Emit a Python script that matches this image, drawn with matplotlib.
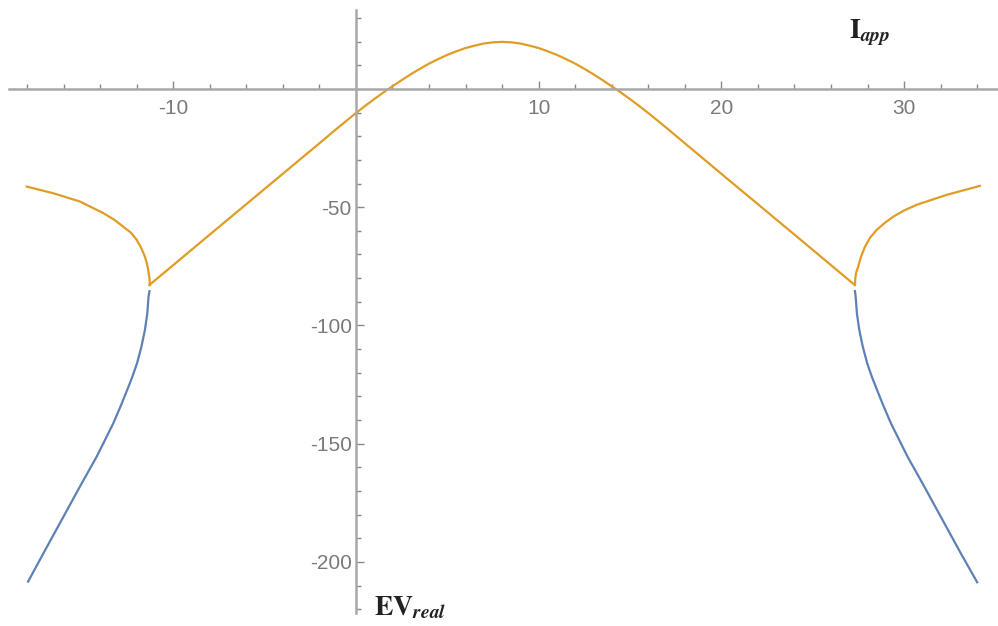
import matplotlib
matplotlib.use("Agg")
import matplotlib.pyplot as plt
from matplotlib.ticker import FixedLocator

plt.rcParams['axes.unicode_minus'] = False
plt.rcParams['mathtext.fontset'] = 'stix'
plt.rcParams['font.family'] = ['Liberation Sans', 'DejaVu Sans']

# real part of complex pair (shared), cusp to cusp
main_x = [-11.3, -8, -5, -2, -1, 0, 0.5, 1, 1.5, 2, 2.5, 3, 3.5, 4, 4.5, 5, 5.5, 6, 6.5,
          7, 7.5, 8, 8.5, 9, 9.5, 10, 10.5, 11, 11.5, 12, 12.5, 13, 13.5, 14, 14.5, 15,
          15.5, 16, 17, 20, 24, 27.3]
main_y = [-82.9, -61.6, -42.3, -23.0, -16.5, -10.2, -7.2, -4.3, -1.5, 1.1, 3.7, 6.2, 8.5,
          10.7, 12.6, 14.4, 15.9, 17.3, 18.3, 19.2, 19.7, 19.9, 19.7, 19.2, 18.3, 17.3,
          15.9, 14.4, 12.6, 10.7, 8.5, 6.2, 3.7, 1.1, -1.5, -4.3, -7.2, -10.2, -16.5,
          -35.9, -61.6, -82.9]

# real eigenvalues, left side
left_up_x = [-11.28, -11.3, -11.37, -11.44, -11.55, -11.75, -12.0, -12.3, -12.74, -13.25,
             -13.83, -15.11, -16.57, -18.02]
left_up_y = [-82.9, -80.0, -76.5, -73.8, -70.9, -67.3, -63.8, -60.9, -58.2, -55.2,
             -52.5, -47.6, -44.1, -41.3]
left_lo_x = [-11.3, -11.35, -11.42, -11.55, -11.74, -11.98, -12.25, -12.52, -12.88, -13.28,
             -14.19, -15.11, -16.2, -17.1, -17.94]
left_lo_y = [-85.5, -87.8, -95.0, -102.0, -109.0, -116.0, -122.0, -127.3, -134.2, -141.4,
             -155.5, -168.2, -183.6, -196.3, -208.3]

# real eigenvalues, right side
right_up_x = [27.31, 27.33, 27.38, 27.49, 27.65, 27.86, 28.15, 28.5, 28.95, 29.41, 30.0,
              30.69, 32.33, 34.15]
right_up_y = [-82.9, -80.0, -77.6, -75.1, -70.8, -66.7, -62.8, -59.6, -56.6, -54.0, -51.4,
              -49.0, -44.8, -41.0]
right_lo_x = [27.31, 27.35, 27.42, 27.55, 27.74, 27.98, 28.25, 28.52, 28.88, 29.28,
              30.19, 31.11, 32.2, 33.1, 34.0]
right_lo_y = [-85.5, -87.8, -95.0, -102.0, -109.0, -116.0, -122.0, -127.3, -134.2, -141.4,
              -155.5, -168.2, -183.6, -196.3, -208.6]

blue = '#5e81b5'
orange = '#e09c24'

fig = plt.figure(figsize=(9.98, 6.26), dpi=100)
ax = fig.add_axes([0, 0, 1, 1])

ax.plot(left_lo_x, left_lo_y, color=blue, lw=1.6)
ax.plot(right_lo_x, right_lo_y, color=blue, lw=1.6)
ax.plot(main_x, main_y, color=orange, lw=1.6)
ax.plot(left_up_x, left_up_y, color=orange, lw=1.6)
ax.plot(right_up_x, right_up_y, color=orange, lw=1.6)

ax.set_xlim(-19.48, 35.14)
ax.set_ylim(-227.1, 37.6)

for s in ['top', 'right']:
    ax.spines[s].set_visible(False)
ax.spines['left'].set_position(('data', 0))
ax.spines['bottom'].set_position(('data', 0))
ax.spines['bottom'].set_bounds(-19.0, 35.14)
ax.spines['left'].set_bounds(-221.5, 33.5)
axis_col = '#a8a8a8'
for s in ['left', 'bottom']:
    ax.spines[s].set_color(axis_col)
    ax.spines[s].set_linewidth(1.8)

ax.xaxis.set_major_locator(FixedLocator([-10, 10, 20, 30]))
ax.xaxis.set_minor_locator(FixedLocator([-18, -16, -14, -12, -8, -6, -4, -2, 2, 4, 6, 8,
                                         12, 14, 16, 18, 22, 24, 26, 28, 32, 34]))
ax.yaxis.set_major_locator(FixedLocator([-50, -100, -150, -200]))
ax.yaxis.set_minor_locator(FixedLocator([30, 20, 10, -10, -20, -30, -40, -60, -70, -80, -90,
                                         -110, -120, -130, -140, -160, -170, -180, -190,
                                         -210, -220]))
ax.tick_params(which='both', direction='in', color='#888888', labelcolor='#7a7a7a',
               labelsize=15, width=1.0)
ax.tick_params(which='major', length=6)
ax.tick_params(which='minor', length=3.5)
ax.tick_params(axis='x', pad=7)
ax.tick_params(axis='y', pad=3)

ax.text(27.0, 21.5, r'$\mathbf{I}_{\mathbfit{app}}$', fontsize=20, color='#222222',
        ha='left', va='baseline')
ax.text(1.0, -222.5, r'$\mathbf{EV}_{\mathbfit{real}}$', fontsize=20, color='#222222',
        ha='left', va='baseline')

fig.savefig('out.png', dpi=100)
